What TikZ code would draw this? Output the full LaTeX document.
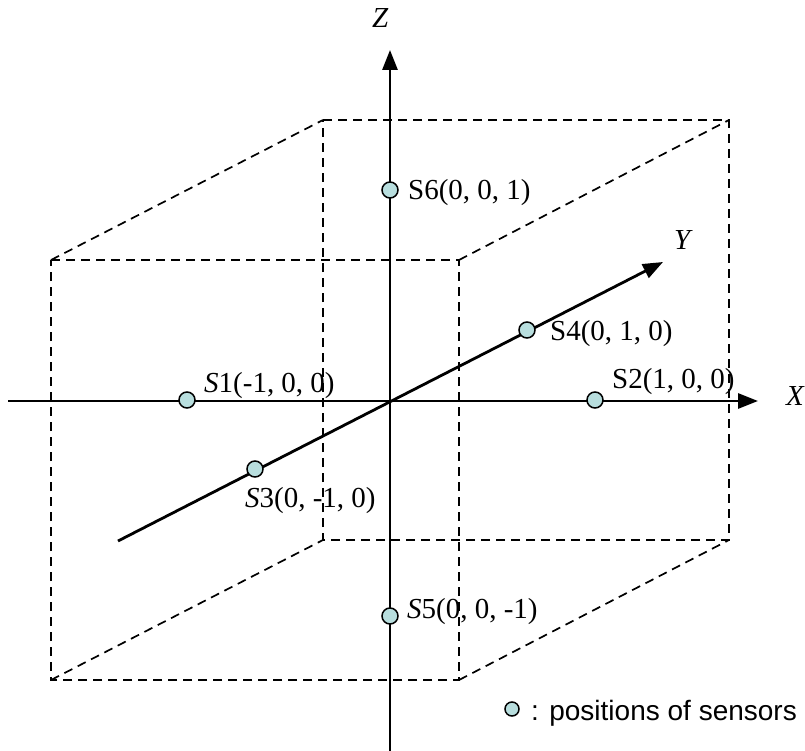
\documentclass[tikz,border=0pt]{standalone}
\usepackage{fontspec}
\setmainfont{Liberation Serif}
\newfontfamily\legendfont{Liberation Sans}
\usetikzlibrary{arrows.meta}
\definecolor{sensorfill}{RGB}{184,222,222}
\begin{document}
\begin{tikzpicture}[x=1pt,y=-1pt,
  boxline/.style={line width=1.7pt,dash pattern=on 9pt off 6pt},
  axisarrow/.style={line width=2.8pt,-{Triangle[length=20pt,width=15pt]}},
  sensor/.style={circle,draw,line width=1.5pt,fill=sensorfill,minimum size=16pt,inner sep=0pt},
  lbl/.style={anchor=base west,inner sep=0pt,font=\fontsize{29}{34}\selectfont},
  axlbl/.style={anchor=base west,inner sep=0pt,font=\fontsize{29}{34}\selectfont\itshape}]
\useasboundingbox (0,0) rectangle (805,751);
% box corners
\coordinate (f1) at (51,260);
\coordinate (f2) at (459,260);
\coordinate (f3) at (459,680);
\coordinate (f4) at (51,680);
\coordinate (b1) at (323,120);
\coordinate (b2) at (729,120);
\coordinate (b3) at (729,540);
\coordinate (b4) at (323,540);
\draw[boxline] (f1) -- (f2) -- (f3) -- (f4) -- cycle;
\draw[boxline] (b1) -- (b2) -- (b3) -- (b4) -- cycle;
\draw[boxline] (f1) -- (b1);
\draw[boxline] (f2) -- (b2);
\draw[boxline] (f3) -- (b3);
\draw[boxline] (f4) -- (b4);
% axes
\coordinate (o) at (390,401);
\coordinate (xs) at (8,401);
\coordinate (xe) at (758,401);
\coordinate (zs) at (390,752);
\coordinate (ze) at (390,50);
\coordinate (ys) at (118,541);
\coordinate (ye) at (663,262);
\draw[axisarrow] (xs) -- (xe);
\draw[axisarrow] (zs) -- (ze);
\draw[axisarrow] (ys) -- (ye);
\node[axlbl] (lx) at (786,405) {X};
\node[axlbl] (ly) at (674,250) {Y};
\node[axlbl] (lz) at (372,28) {Z};
% sensors
\node[sensor] (s1) at (187,400) {};
\node[sensor] (s2) at (595,400) {};
\node[sensor] (s3) at (255,469) {};
\node[sensor] (s4) at (527,330) {};
\node[sensor] (s5) at (390,616) {};
\node[sensor] (s6) at (390,190) {};
\node[lbl] (t1) at (204,392) {\textit{S}1(-1, 0, 0)};
\node[lbl] (t2) at (612,388) {S2(1, 0, 0)};
\node[lbl] (t3) at (245,507) {\textit{S}3(0, -1, 0)};
\node[lbl] (t4) at (550,340) {S4(0, 1, 0)};
\node[lbl] (t5) at (407,618) {\textit{S}5(0, 0, -1)};
\node[lbl] (t6) at (408,200) {S6(0, 0, 1)};
% legend
\node[sensor,minimum size=14pt] (leg) at (512,709) {};
\node[anchor=base west,inner sep=0pt,font=\legendfont\fontsize{28}{33}\selectfont] (legt) at (531,720) {: positions of sensors};
\end{tikzpicture}
\end{document}
